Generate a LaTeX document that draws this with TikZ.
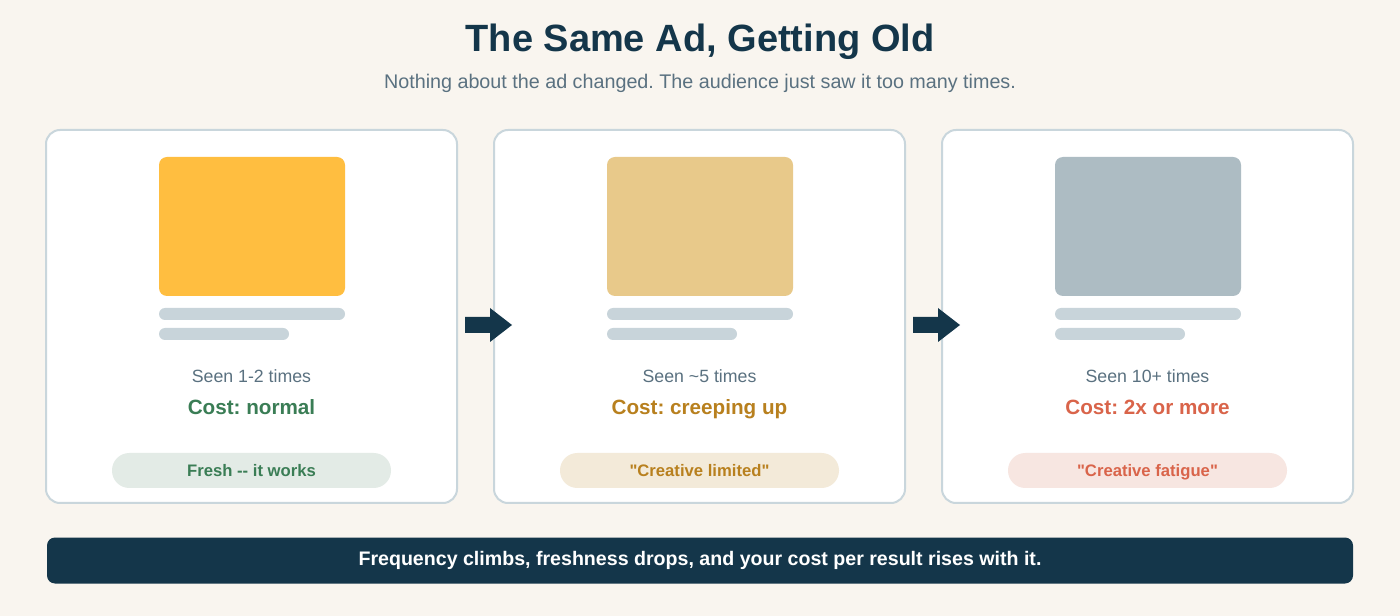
\documentclass[tikz,border=0pt]{standalone}
\usepackage{fontspec}
\setmainfont{Liberation Sans}[Ligatures=TeXOff]
\frenchspacing
\definecolor{bg}{HTML}{F9F5EF}
\definecolor{navy}{HTML}{14364A}
\definecolor{subgray}{HTML}{5A7180}
\definecolor{cardline}{HTML}{C9D6DC}
\definecolor{barline}{HTML}{C8D4DA}
\definecolor{adA}{HTML}{FFBE40}
\definecolor{adB}{HTML}{E8C98A}
\definecolor{adC}{HTML}{ADBCC3}
\definecolor{costA}{HTML}{3A7D55}
\definecolor{costB}{HTML}{B8801E}
\definecolor{costC}{HTML}{D9644A}
\definecolor{pillA}{HTML}{E3EBE6}
\definecolor{pillB}{HTML}{F3EAD9}
\definecolor{pillC}{HTML}{F7E6E1}
\tikzset{
  card/.style={draw=cardline, line width=1.5pt, fill=white, rounded corners=10.5pt},
  adimg/.style={rounded corners=6pt},
  textbar/.style={fill=barline, rounded corners=4.5pt},
  seen/.style={font=\fontsize{13.3}{16}\selectfont, text=subgray},
  cost/.style={font=\bfseries\fontsize{15.5}{18}\selectfont, text height=11pt, text depth=3pt},
  pill/.style={rounded corners=13pt, minimum height=26.25pt, minimum width=209.25pt, font=\bfseries\fontsize{12.5}{14}\selectfont, inner sep=0pt, text height=11pt, text depth=2.5pt},
  flowarrow/.style={fill=navy},
}
\begin{document}
\begin{tikzpicture}[x=0.75pt,y=-0.75pt]
\fill[bg] (0,0) rectangle (1400,616);
\useasboundingbox (0,0) rectangle (1400,616);
\node[font=\bfseries\fontsize{28.5}{32}\selectfont, text=navy] (title) at (700,42) {The Same Ad, Getting Old};
\node[font=\fontsize{14.8}{17}\selectfont, text=subgray] (subtitle) at (700,83.5) {Nothing about the ad changed. The audience just saw it too many times.};
\foreach \i/\x/\ad/\seen/\cost/\cc/\pc/\pt in {
  1/46/adA/{Seen 1-2 times}/{Cost: normal}/costA/pillA/{Fresh -- it works},
  2/494/adB/{Seen \textasciitilde5 times}/{Cost: creeping up}/costB/pillB/{"Creative limited"},
  3/942/adC/{Seen 10+ times}/{Cost: 2x or more}/costC/pillC/{"Creative fatigue"}} {
  \draw[card] (\x,130) rectangle ++(411,373);
  \fill[\ad, adimg] (\x+113,157) rectangle ++(186,139);
  \fill[textbar] (\x+113,308) rectangle ++(186,12);
  \fill[textbar] (\x+113,328) rectangle ++(130,12);
  \node[seen] (seen\i) at (\x+205.5,376.5) {\seen};
  \node[cost, text=\cc] (cost\i) at (\x+205.5,409) {\cost};
  \node[pill, fill=\pc, text=\cc] (pill\i) at (\x+205.5,470.5) {\pt};
}
\foreach \x in {465,913} {
  \fill[flowarrow] (\x,317) -- (\x+25,317) -- (\x+25,308) -- (\x+47,325) -- (\x+25,342) -- (\x+25,333) -- (\x,333) -- cycle;
}
\node[fill=navy, rounded corners=6pt, minimum width=979.5pt, minimum height=34.5pt, text=white, font=\bfseries\fontsize{14.7}{17}\selectfont, text height=10.5pt, text depth=3pt] (bar) at (700,560.5) {Frequency climbs, freshness drops, and your cost per result rises with it.};
\end{tikzpicture}
\end{document}
